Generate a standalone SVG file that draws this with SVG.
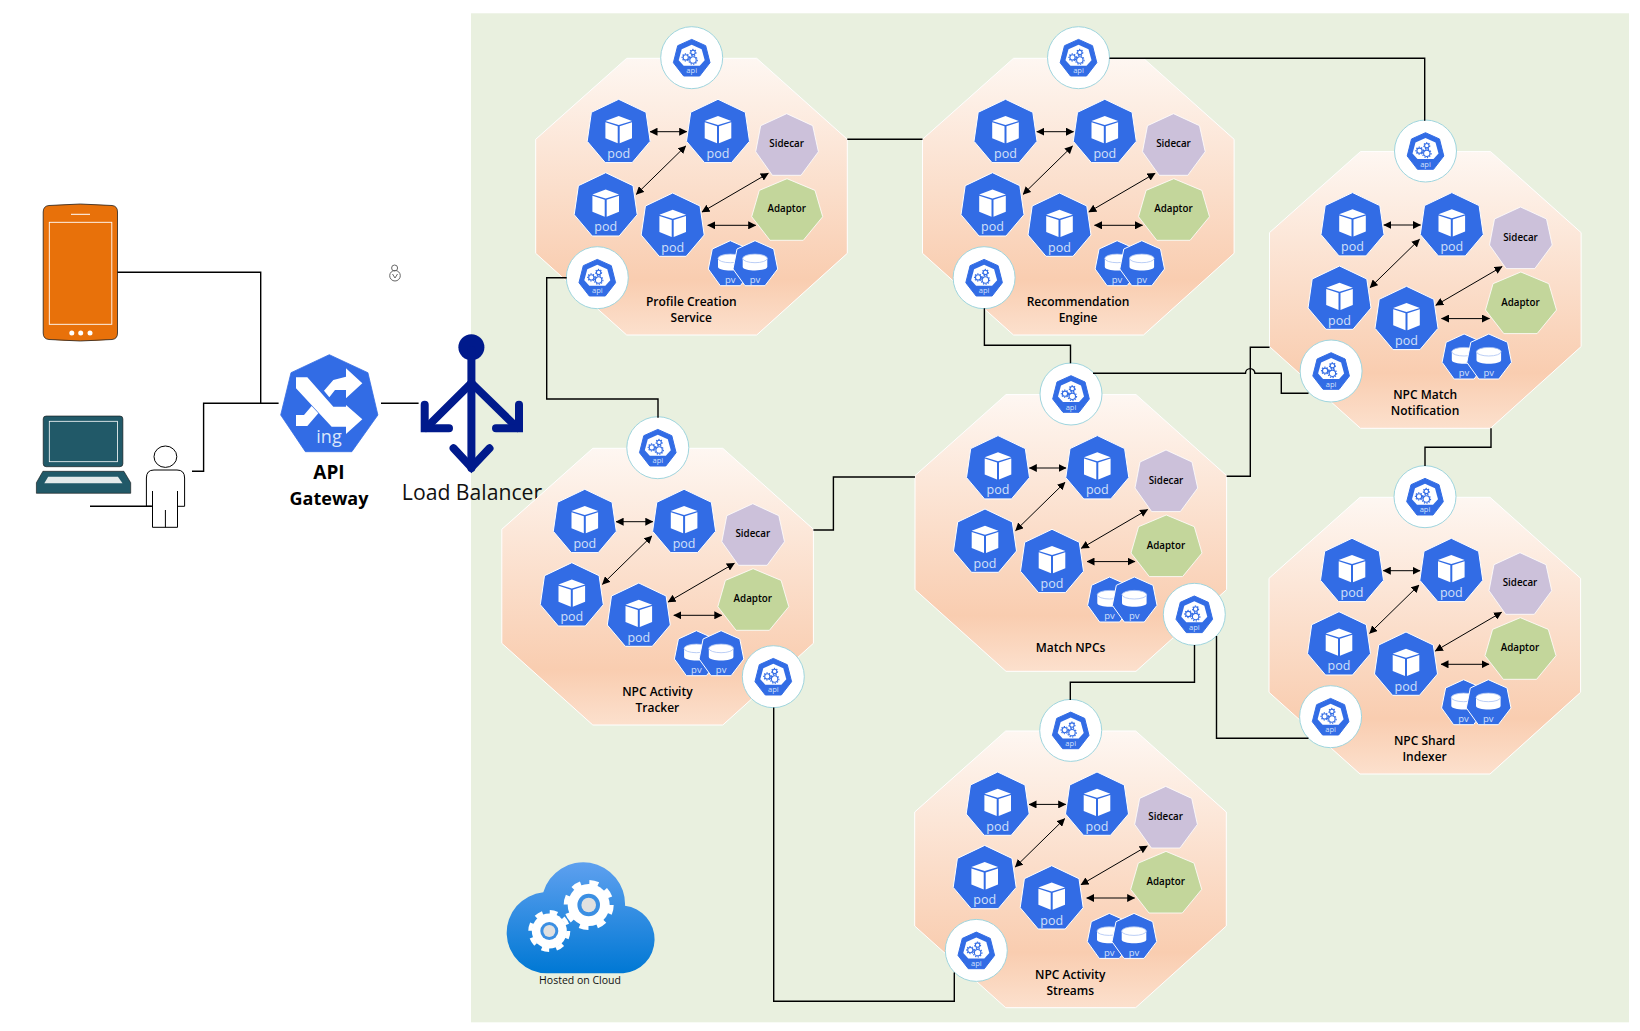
<svg xmlns="http://www.w3.org/2000/svg" xmlns:xlink="http://www.w3.org/1999/xlink" width="1640" height="1031" viewBox="0 0 1640 1031">
<style>
.conn{fill:none;stroke:#000;stroke-width:1.4}
.t{font-family:"Open Sans","Liberation Sans",sans-serif;text-anchor:middle}
.pl{font-size:12.5px;fill:#d3e0fa}
.pvl{font-size:9.5px;fill:#d3e0fa}
.al{font-size:7.5px;fill:#d3e0fa}
.tag{font-size:9.8px;font-weight:600;fill:#000}
.lab{font-size:12px;font-weight:600;fill:#000}
.arrow{stroke:#000;stroke-width:1;marker-start:url(#ah);marker-end:url(#ah)}
</style>
<defs>
<linearGradient id="og" x1="0" y1="0" x2="0" y2="1"><stop offset="0" stop-color="#fef7f2"/><stop offset=".8" stop-color="#f9cdb0"/><stop offset="1" stop-color="#fce0cd"/></linearGradient>
<linearGradient id="cg" x1="0" y1="0" x2="0" y2="1"><stop offset="0" stop-color="#5ea0ef"/><stop offset="1" stop-color="#0078d4"/></linearGradient>
<marker id="ah" viewBox="0 0 8 8" refX="7.5" refY="4" markerWidth="8" markerHeight="8" markerUnits="userSpaceOnUse" orient="auto-start-reverse"><path d="M0 0L8 4L0 8z" fill="#000"/></marker>
<g id="pod"><polygon points="0,0 27.3,13 31.5,42 13.5,63.3 -13.5,63.3 -31.5,42 -27.3,13" fill="#326ce5" stroke="#fff" stroke-width="1" stroke-linejoin="round"/><path d="M0 16.7L13.3 21.7L0 25.7L-13.3 21.7zM-13.3 23L-1 27V44L-13.3 39zM1 27L13.3 23V39L1 44z" fill="#fff"/></g>
<g id="pv"><polygon points="0,0 18.7,8.3 22.7,28.3 10,45 -10,45 -22,28.3 -18,8.3" fill="#326ce5" stroke="#fff" stroke-width="1" stroke-linejoin="round"/><path d="M-12.3 17.7V26C-12.3 31 12.3 31 12.3 26V17.7z" fill="#fff"/><ellipse cx="0" cy="17.7" rx="12.3" ry="4.3" fill="#fff" stroke="#a9c2f2" stroke-width=".8"/></g>
<g id="side"><polygon points="0,0 26,12 31.7,38 14.3,61.6 -14.3,61.6 -31,38 -26,12" fill="#ccc1da" stroke="#fff" stroke-width=".8"/></g>
<g id="adap"><polygon points="0,0 28,11.7 35.7,38 16.3,61.6 -17,61.6 -35.3,38 -27.7,11.7" fill="#c3d69b" stroke="#fff" stroke-width=".8"/></g>
<g id="api"><circle r="31" fill="#fff" stroke="#9fd5de" stroke-width="1"/><polygon points="0,-18.3 14,-12 18.3,5 8,18.3 -8,18.3 -18.3,5 -14,-12" fill="#326ce5" stroke="#326ce5" stroke-linejoin="round"/><polygon points="0,-13 10,-8.5 13,2.5 8,8 -8,8 -13,2.5 -10,-8.5" fill="#fff"/><g fill="#fff" stroke="#326ce5" stroke-width="1.1"><circle cx="1.3" cy="2.3" r="3.2"/><circle cx="-6" cy="-.3" r="2.6"/><circle cx="1.3" cy="-5.3" r="2.2"/></g><g fill="none" stroke="#326ce5" stroke-width="1.1" stroke-dasharray="1.3 1.3"><circle cx="1.3" cy="2.3" r="4.3"/><circle cx="-6" cy="-.3" r="3.6"/><circle cx="1.3" cy="-5.3" r="3"/></g></g>
<g id="svc">
<polygon points="91,0 221,0 311.6,81 311.6,195 221,276.7 91,276.7 0,195 0,81" fill="url(#og)" stroke="#fff" stroke-width="1"/>
<use href="#pod" x="83" y="41"/><use href="#pod" x="182.3" y="41"/><use href="#pod" x="70" y="114.4"/><use href="#pod" x="137" y="134.7"/>
<use href="#side" x="251" y="55.4"/><use href="#adap" x="251.3" y="120.4"/>
<use href="#pv" x="194.6" y="182.4"/><use href="#pv" x="219.3" y="182.4"/>
<line class="arrow" x1="114.3" y1="73.4" x2="151" y2="73.4"/><line class="arrow" x1="150" y1="87.7" x2="100.6" y2="136"/><line class="arrow" x1="232.6" y1="115" x2="166.3" y2="153.7"/><line class="arrow" x1="172" y1="167" x2="220" y2="167"/>
</g>
</defs>
<rect width="1640" height="1031" fill="#fff"/>
<rect id="cloud-panel" x="471" y="13.3" width="1158" height="1009" fill="#e9f0df"/>
<g id="phone"><path d="M43.2 212Q43.2 206 49 205.5Q80 202.5 112 205.5Q117.5 206 117.5 212V333Q117.5 339 112 339.5Q80 342.5 49 339.5Q43.2 339 43.2 333z" fill="#e8710a" stroke="#222" stroke-width=".8"/><rect x="49.3" y="222.3" width="62.5" height="102" fill="none" stroke="#fff" stroke-width=".9"/><line x1="71" y1="214.3" x2="90" y2="214.3" stroke="#fff"/><circle cx="71.8" cy="333" r="2.5" fill="#fff"/><circle cx="80.7" cy="333" r="2.5" fill="#fff"/><circle cx="90" cy="333" r="2.5" fill="#fff"/></g>
<g id="laptop"><rect x="43.2" y="416" width="79.7" height="50.7" rx="3" fill="#215968" stroke="#111" stroke-width=".6"/><rect x="49.3" y="421.3" width="68.2" height="40.4" fill="none" stroke="#fff" stroke-width=".8"/><polygon points="42.9,471.3 123.9,471.3 130.7,482.7 130.7,493.3 36.4,493.3 36.4,482.7" fill="#215968" stroke="#111" stroke-width=".6"/><polygon points="48.2,476.7 117.9,476.7 122.5,483.3 44.3,483.3" fill="#e4eaea"/></g>
<g id="person" fill="#fff" stroke="#000" stroke-width="1"><ellipse cx="165.4" cy="456.7" rx="11.4" ry="10.7"/><path d="M146.4 506.3V478Q146.4 470 154 470H177Q184.6 470 184.6 478V506.3H177.5M146.4 506.3H152.5"/><path d="M152.5 491V527.3H177.5V491M165.4 510V527.3" /></g>
<g id="mini-icon" fill="none" stroke="#666" stroke-width="1"><circle cx="394.6" cy="268" r="3"/><circle cx="395" cy="275.7" r="5.3"/><path d="M392.5 274L395 278L397.5 274"/></g>
<g id="api-gateway">
<polygon points="329.3,354.7 367.9,372.7 377.9,415 351.8,451.7 305.4,451.7 280.7,415 291,372.7" fill="#326ce5" stroke="#326ce5" stroke-width=".8" stroke-linejoin="round"/>
<g transform="translate(290 360) scale(.3333)" fill="#fff"><polygon points="18,52 52,52 130,140 168,140 168,135 217,178 168,222 168,200 125,200 18,85"/><polygon points="168,25 217,70 168,115 168,90 135,90 118,112 102,92 130,60 168,50"/><polygon points="18,165 42,165 65,138 85,160 52,198 18,198"/></g>
<text class="t" x="329" y="443" font-size="18" fill="#dbe6fb">ing</text>
<text class="t" x="329" y="479.3" font-size="19" font-weight="700" fill="#000">API</text>
<text class="t" x="329" y="505" font-size="18" font-weight="700" fill="#000">Gateway</text>
</g>
<g id="load-balancer">
<circle cx="471.4" cy="347.3" r="13" fill="#001a8c"/>
<g fill="none" stroke="#001a8c" stroke-width="8" stroke-linecap="round" stroke-linejoin="miter"><path d="M471.4 350V468"/><path d="M471.4 383L426 428"/><path d="M471.4 383L517.5 428"/><path d="M424.7 404.7V428.3H449"/><path d="M519 404.7V428.3H496"/><path d="M453.6 448.3L471.4 467.5L489.5 448.3"/></g>
<text class="t" x="472" y="500" font-size="21.2" fill="#111">Load Balancer</text>
</g>
<g id="hosted-on-cloud">
<path d="M546.7 973.3A40.6 40.6 0 0 1 543.3 892.3A41.7 41.7 0 0 1 625 905.7A34 34 0 0 1 623.3 973.3z" fill="url(#cg)"/>
<circle cx="588.7" cy="905" r="21" fill="#fff"/><circle cx="588.7" cy="905" r="22.5" fill="none" stroke="#fff" stroke-width="5" stroke-dasharray="9 8.67"/><circle cx="588.7" cy="905" r="11.3" fill="#3b8fe3"/><circle cx="588.7" cy="905" r="7.3" fill="#e0e0e0"/>
<circle cx="549.3" cy="931" r="17.5" fill="#fff"/><circle cx="549.3" cy="931" r="19" fill="none" stroke="#fff" stroke-width="4" stroke-dasharray="7.7 7.2"/><circle cx="549.3" cy="931" r="9" fill="#3b8fe3"/><circle cx="549.3" cy="931" r="6" fill="#e0e0e0"/>
<text class="t" x="580" y="983.5" font-size="10.5" fill="#111">Hosted on Cloud</text>
</g>
<g id="profile-creation-service" transform="translate(535.7 58.3)"><use href="#svc"/>
<text class="t pl" x="83" y="99.8">pod</text><text class="t pl" x="182.3" y="99.8">pod</text><text class="t pl" x="70" y="173.2">pod</text><text class="t pl" x="137" y="193.5">pod</text><text class="t pvl" x="194.6" y="224.7">pv</text><text class="t pvl" x="219.3" y="224.7">pv</text><text class="t tag" x="251" y="89">Sidecar</text><text class="t tag" x="251" y="154">Adaptor</text>
<use href="#api" x="156" y="-.6"/><text class="t al" x="156" y="15">api</text><use href="#api" x="61.6" y="219.4"/><text class="t al" x="61.6" y="235">api</text>
<text class="t lab" x="155.6" y="247.7">Profile Creation</text><text class="t lab" x="155.6" y="263.8">Service</text></g>
<g id="recommendation-engine" transform="translate(922.5 58.3)"><use href="#svc"/>
<text class="t pl" x="83" y="99.8">pod</text><text class="t pl" x="182.3" y="99.8">pod</text><text class="t pl" x="70" y="173.2">pod</text><text class="t pl" x="137" y="193.5">pod</text><text class="t pvl" x="194.6" y="224.7">pv</text><text class="t pvl" x="219.3" y="224.7">pv</text><text class="t tag" x="251" y="89">Sidecar</text><text class="t tag" x="251" y="154">Adaptor</text>
<use href="#api" x="156" y="-.6"/><text class="t al" x="156" y="15">api</text><use href="#api" x="61.6" y="219.4"/><text class="t al" x="61.6" y="235">api</text>
<text class="t lab" x="155.6" y="247.7">Recommendation</text><text class="t lab" x="155.6" y="263.8">Engine</text></g>
<g id="npc-match-notification" transform="translate(1269.5 151.6)"><use href="#svc"/>
<text class="t pl" x="83" y="99.8">pod</text><text class="t pl" x="182.3" y="99.8">pod</text><text class="t pl" x="70" y="173.2">pod</text><text class="t pl" x="137" y="193.5">pod</text><text class="t pvl" x="194.6" y="224.7">pv</text><text class="t pvl" x="219.3" y="224.7">pv</text><text class="t tag" x="251" y="89">Sidecar</text><text class="t tag" x="251" y="154">Adaptor</text>
<use href="#api" x="156" y="-.6"/><text class="t al" x="156" y="15">api</text><use href="#api" x="61.6" y="219.4"/><text class="t al" x="61.6" y="235">api</text>
<text class="t lab" x="155.6" y="247.7">NPC Match</text><text class="t lab" x="155.6" y="263.8">Notification</text></g>
<g id="match-npcs" transform="translate(915 394.6)"><use href="#svc"/>
<text class="t pl" x="83" y="99.8">pod</text><text class="t pl" x="182.3" y="99.8">pod</text><text class="t pl" x="70" y="173.2">pod</text><text class="t pl" x="137" y="193.5">pod</text><text class="t pvl" x="194.6" y="224.7">pv</text><text class="t pvl" x="219.3" y="224.7">pv</text><text class="t tag" x="251" y="89">Sidecar</text><text class="t tag" x="251" y="154">Adaptor</text>
<use href="#api" x="156" y="-.6"/><text class="t al" x="156" y="15">api</text><use href="#api" x="279.3" y="219.7"/><text class="t al" x="279.3" y="235.3">api</text>
<text class="t lab" x="155.6" y="257.2">Match NPCs</text></g>
<g id="npc-activity-tracker" transform="translate(501.8 448.3)"><use href="#svc"/>
<text class="t pl" x="83" y="99.8">pod</text><text class="t pl" x="182.3" y="99.8">pod</text><text class="t pl" x="70" y="173.2">pod</text><text class="t pl" x="137" y="193.5">pod</text><text class="t pvl" x="194.6" y="224.7">pv</text><text class="t pvl" x="219.3" y="224.7">pv</text><text class="t tag" x="251" y="89">Sidecar</text><text class="t tag" x="251" y="154">Adaptor</text>
<use href="#api" x="156" y="-.6"/><text class="t al" x="156" y="15">api</text><use href="#api" x="271.5" y="228.4"/><text class="t al" x="271.5" y="244">api</text>
<text class="t lab" x="155.6" y="247.7">NPC Activity</text><text class="t lab" x="155.6" y="263.8">Tracker</text></g>
<g id="npc-shard-indexer" transform="translate(1269 497.3)"><use href="#svc"/>
<text class="t pl" x="83" y="99.8">pod</text><text class="t pl" x="182.3" y="99.8">pod</text><text class="t pl" x="70" y="173.2">pod</text><text class="t pl" x="137" y="193.5">pod</text><text class="t pvl" x="194.6" y="224.7">pv</text><text class="t pvl" x="219.3" y="224.7">pv</text><text class="t tag" x="251" y="89">Sidecar</text><text class="t tag" x="251" y="154">Adaptor</text>
<use href="#api" x="156" y="-.6"/><text class="t al" x="156" y="15">api</text><use href="#api" x="61.6" y="219.4"/><text class="t al" x="61.6" y="235">api</text>
<text class="t lab" x="155.6" y="247.7">NPC Shard</text><text class="t lab" x="155.6" y="263.8">Indexer</text></g>
<g id="npc-activity-streams" transform="translate(914.7 731)"><use href="#svc"/>
<text class="t pl" x="83" y="99.8">pod</text><text class="t pl" x="182.3" y="99.8">pod</text><text class="t pl" x="70" y="173.2">pod</text><text class="t pl" x="137" y="193.5">pod</text><text class="t pvl" x="194.6" y="224.7">pv</text><text class="t pvl" x="219.3" y="224.7">pv</text><text class="t tag" x="251" y="89">Sidecar</text><text class="t tag" x="251" y="154">Adaptor</text>
<use href="#api" x="156" y="-.6"/><text class="t al" x="156" y="15">api</text><use href="#api" x="61.6" y="219.4"/><text class="t al" x="61.6" y="235">api</text>
<text class="t lab" x="155.6" y="247.7">NPC Activity</text><text class="t lab" x="155.6" y="263.8">Streams</text></g>
<g id="connectors">
<path class="conn" d="M117.5 272.3H260.7V403.3"/>
<path class="conn" d="M192 471.3H203.6V403.3H278.6"/>
<path class="conn" d="M381 403.3H418.6"/>
<path class="conn" d="M90 506.3H151.8"/>
<path class="conn" d="M847.3 139.3H922.5"/>
<path class="conn" d="M1109.5 58.3H1424.7V120.7"/>
<path class="conn" d="M984.4 308.3V345.3H1070.5V363.3"/>
<path class="conn" d="M1093 373.3H1245.5A4.7 4.7 0 0 1 1254.9 373.3H1281.3V393.3H1308.5"/>
<path class="conn" d="M1226.6 476.3H1250.3V347.3H1269.5"/>
<path class="conn" d="M1491 428.3V447.3H1425V466"/>
<path class="conn" d="M566.7 277.7H546.7V399H658V417.7"/>
<path class="conn" d="M813.4 530H833.4V477H915"/>
<path class="conn" d="M1194.5 645V682.3H1070.3V700"/>
<path class="conn" d="M1216.5 636V738.3H1308.5"/>
<path class="conn" d="M773.7 707.5V1001.3H954.3V972.5"/>
</g>
</svg>
